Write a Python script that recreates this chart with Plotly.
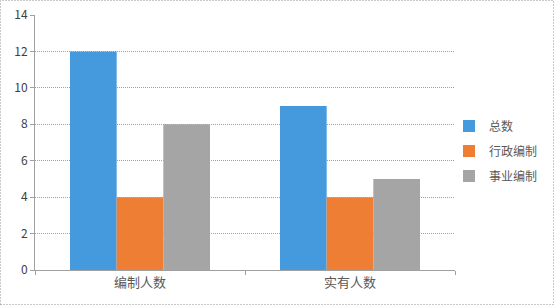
import plotly.graph_objects as go

categories = ["编制人数", "实有人数"]
series_names = ["总数", "行政编制", "事业编制"]
total = [12, 9]
admin = [4, 4]
inst = [8, 5]
colors = ["#4599DD", "#EE7E33", "#A5A5A5"]
tick_vals = [0, 2, 4, 6, 8, 10, 12, 14]

W, H = 555, 305
L, R, T, B = 35, 100, 15, 35
pw, ph = W - L - R, H - T - B

def px_x(p):
    return (p - L) / pw

def px_y(p):
    return (T + ph - p) / ph

fig = go.Figure()
for i, (name, vals, c) in enumerate(zip(series_names, [total, admin, inst], colors)):
    fig.add_trace(go.Bar(x=categories, y=vals, name=name, legendgroup=str(i),
                         marker=dict(color=c, line=dict(width=0))))

fig.update_layout(
    width=W, height=H,
    margin=dict(l=L, r=R, t=T, b=B, autoexpand=False),
    barmode="group", bargap=1/3, bargroupgap=0,
    plot_bgcolor="white", paper_bgcolor="white",
    font=dict(family="Noto Sans CJK SC, sans-serif", color="#404040", size=12),
    showlegend=True,
    legend=dict(x=px_x(449), y=px_y(151), xanchor="left", yanchor="middle",
                font=dict(size=12, color="#595959"), itemwidth=30, tracegroupgap=6,
                bgcolor="rgba(0,0,0,0)"),
    xaxis=dict(showline=True, linecolor="#A0A0A0", linewidth=1, ticks="outside",
               tickson="boundaries", ticklen=4, tickcolor="#A0A0A0",
               tickfont=dict(size=13, color="#595959"), showgrid=False),
    yaxis=dict(range=[0, 14], tickvals=tick_vals, showline=True, linecolor="#A0A0A0",
               linewidth=1, showgrid=True, gridcolor="#A0A0A0", griddash="1px,1px",
               gridwidth=1, zeroline=False, tickfont=dict(size=12, color="#404040"),
               ticks="outside", ticklen=4, tickcolor="#A0A0A0"),
    shapes=[dict(type="rect", xref="paper", yref="paper",
                 x0=px_x(0.5), x1=px_x(553.5), y0=px_y(304.5), y1=px_y(0.5),
                 line=dict(color="#909090", width=1, dash="1px,2px"))],
)
fig.write_html("out.html")
